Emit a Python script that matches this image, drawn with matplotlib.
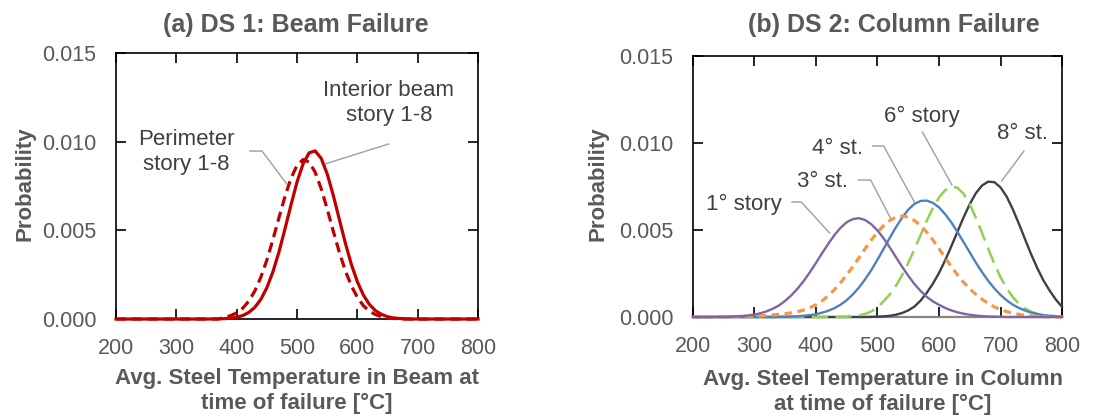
import numpy as np
import matplotlib
matplotlib.use("Agg")
import matplotlib.pyplot as plt
from matplotlib.ticker import FormatStrFormatter

plt.rcParams['font.family'] = ['Liberation Sans', 'DejaVu Sans']

# temperature grid [°C]
temp = np.arange(200, 801, 10)

# (a) beam failure curves
interior_beam = [0.0] * 16 + [
    0.000004, 0.000009, 0.000021, 0.000047, 0.000098, 0.000196, 0.00037, 0.00066,
    0.00111, 0.00177, 0.00266, 0.00378, 0.00508, 0.00644, 0.00773, 0.00875,
    0.00937, 0.00948, 0.00906, 0.00818, 0.00698, 0.00563, 0.00429, 0.00308,
    0.0021, 0.00135, 0.00082, 0.00047, 0.00026, 0.00013, 0.00006, 0.00003,
    0.00001] + [0.0] * 12
perimeter_beam = [0.0] * 18 + [
    0.0001, 0.00019, 0.00035, 0.00061, 0.00101, 0.00158, 0.00236, 0.00333,
    0.00448, 0.00571, 0.00691, 0.00794, 0.00867, 0.00899, 0.00885, 0.00828,
    0.00735, 0.0062, 0.00496, 0.00377, 0.00273, 0.00187, 0.00122, 0.00075,
    0.00044, 0.00025, 0.00013, 0.00006, 0.00003, 0.00001] + [0.0] * 13

# (b) column failure curves
story1 = [0.0] * 4 + [
    0.00001, 0.00001, 0.00002, 0.00004, 0.00006, 0.00009, 0.00014, 0.00022,
    0.00033, 0.00048, 0.00067, 0.00093, 0.00125, 0.00163, 0.00207, 0.00257,
    0.00311, 0.00367, 0.00421, 0.00471, 0.00513, 0.00545, 0.00563, 0.00568,
    0.00557, 0.00533, 0.00497, 0.00452, 0.004, 0.00344, 0.00289, 0.00237,
    0.0019, 0.0015, 0.00116, 0.0009, 0.0007, 0.00052, 0.00038, 0.00027,
    0.00019, 0.00013, 0.00008, 0.00005, 0.00003, 0.00002, 0.00001] + [0.0] * 10
story3 = [0.0] * 5 + [
    0.00001, 0.00001, 0.00002, 0.00002, 0.00003, 0.00004, 0.00006, 0.00009,
    0.00012, 0.00015, 0.00019, 0.00024, 0.00031, 0.0004, 0.00053, 0.0007,
    0.00093, 0.00122, 0.00157, 0.00197, 0.00242, 0.0029, 0.00341, 0.00393,
    0.00443, 0.00488, 0.00526, 0.00555, 0.00574, 0.0058, 0.00574, 0.00555,
    0.00526, 0.00488, 0.00443, 0.00393, 0.00341, 0.0029, 0.00242, 0.00199,
    0.00162, 0.0013, 0.00102, 0.00078, 0.00058, 0.00043, 0.00031, 0.00022,
    0.00015, 0.0001, 0.00006, 0.00004, 0.00002, 0.00001] + [0.0] * 2
story4 = [0.0] * 14 + [
    0.00001, 0.00002, 0.00003, 0.00004, 0.00007, 0.00011, 0.00016, 0.00025,
    0.00036, 0.00051, 0.00071, 0.00097, 0.0013, 0.0017, 0.00217, 0.0027,
    0.0033, 0.00392, 0.00455, 0.00516, 0.00571, 0.00617, 0.0065, 0.00667,
    0.00669, 0.00656, 0.0063, 0.00591, 0.00544, 0.00489, 0.0043, 0.00371,
    0.00312, 0.00258, 0.00208, 0.00164, 0.00127, 0.00096, 0.00071, 0.00052,
    0.00037, 0.00025, 0.00017, 0.00011, 0.00007, 0.00005, 0.00003]
story6 = [0.0] * 24 + [
    0.00001, 0.00002, 0.00005, 0.0001, 0.00018, 0.00032, 0.00055, 0.00091,
    0.0013, 0.0018, 0.0024, 0.00311, 0.00389, 0.00471, 0.00553, 0.00626,
    0.00687, 0.00729, 0.00749, 0.00743, 0.00708, 0.00648, 0.0057, 0.00482,
    0.00392, 0.00306, 0.00229, 0.00165, 0.00114, 0.00076, 0.00049, 0.0003,
    0.00018, 0.0001, 0.00005, 0.00003, 0.00001]
story8 = [0.0] * 29 + [
    0.00001, 0.00002, 0.00004, 0.00007, 0.00013, 0.00023, 0.00038, 0.0006,
    0.00094, 0.00139, 0.00191, 0.00253, 0.00326, 0.00406, 0.0049, 0.00573,
    0.00649, 0.00712, 0.00756, 0.00778, 0.00775, 0.00745, 0.00692, 0.00619,
    0.00535, 0.00446, 0.00359, 0.00279, 0.00209, 0.00151, 0.001, 0.00058]

x_ticks = [200, 300, 400, 500, 600, 700, 800]
y_ticks = [0.0, 0.005, 0.010, 0.015]

# callout labels: (text, text x, text y, leader x list, leader y list)
labels_a = [
    ("Interior beam\nstory 1-8", 652, 0.01218, [652, 546], [0.00987, 0.00874]),
    ("Perimeter\nstory 1-8", 316, 0.00942, [422, 442, 483], [0.00947, 0.00947, 0.00761]),
]
labels_b = [
    ("1° story", 283, 0.00649, [361, 376, 422], [0.00661, 0.00661, 0.00483]),
    ("3° st.", 410, 0.00776, [469, 489, 521], [0.00787, 0.00787, 0.00569]),
    ("4° st.", 435, 0.00971, [492, 510, 560], [0.00983, 0.00983, 0.00661]),
    ("6° story", 572, 0.01155, [573, 621], [0.01063, 0.00759]),
    ("8° st.", 736, 0.01057, [738, 702], [0.00954, 0.00782]),
]

txt_gray = '#595959'
note_gray = '#404040'
lead_gray = '#A6A6A6'


def style_axes(ax, gray_bottom=False, ylab_x=-0.225):
    ax.set_xlim(200, 800)
    ax.set_ylim(0, 0.015)
    ax.set_xticks(x_ticks)
    ax.set_yticks(y_ticks)
    ax.yaxis.set_major_formatter(FormatStrFormatter('%.3f'))
    ax.tick_params(direction='in', length=7, width=1.2, top=True, right=True,
                   labelsize=15.5, labelcolor=txt_gray, pad=14)
    for s in ax.spines.values():
        s.set_linewidth(1.2)
        s.set_color('black')
    if gray_bottom:
        ax.spines['bottom'].set_color('#868686')
        ax.spines['bottom'].set_linewidth(1.6)
        for t in ax.xaxis.get_major_ticks():
            t.tick1line.set_color('#868686')
    ax.set_ylabel('Probability', fontsize=16, fontweight='bold', color=txt_gray)
    ax.yaxis.set_label_coords(ylab_x, 0.51)


fig = plt.figure(figsize=(11.01, 4.18), dpi=100)
ax1 = fig.add_axes([0.1054, 0.2368, 0.3288, 0.6364])
ax2 = fig.add_axes([0.6294, 0.2416, 0.3352, 0.6244])

# ---- (a) beam failure ----
ax1.plot(temp, perimeter_beam, color='#C00000', lw=2.3, dashes=(3.2, 1.8), clip_on=False, zorder=3)
ax1.plot(temp, interior_beam, color='#C00000', lw=2.3, clip_on=False, zorder=4)
for text, tx, ty, lx, ly in labels_a:
    ax1.plot(lx, ly, color=lead_gray, lw=1.1, zorder=2)
    ax1.text(tx, ty, text, ha='center', va='center', fontsize=16, color=note_gray,
             linespacing=1.25)
style_axes(ax1, ylab_x=-0.222)
ax1.text(0.5, -0.271, 'Avg. Steel Temperature in Beam at\ntime of failure [°C]',
         transform=ax1.transAxes, ha='center', va='center', fontsize=16,
         fontweight='bold', color=txt_gray, linespacing=1.2)
fig.text(0.2688, 0.940, '(a) DS 1: Beam Failure', ha='center', va='center',
         fontsize=18, fontweight='bold', color=txt_gray)

# ---- (b) column failure ----
ax2.plot(temp, story8, color='#404040', lw=1.7, clip_on=False, zorder=3)
ax2.plot(temp, story6, color='#92D050', lw=1.8, dashes=(6.5, 3.0), clip_on=False, zorder=3)
ax2.plot(temp, story4, color='#4F81BD', lw=1.7, clip_on=False, zorder=3)
ax2.plot(temp, story3, color='#F79646', lw=2.3, dashes=(2.4, 1.7), clip_on=False, zorder=3)
ax2.plot(temp, story1, color='#8064A2', lw=1.7, clip_on=False, zorder=4)
for text, tx, ty, lx, ly in labels_b:
    ax2.plot(lx, ly, color=lead_gray, lw=1.1, zorder=2)
    ax2.text(tx, ty, text, ha='center', va='center', fontsize=16, color=note_gray)
style_axes(ax2, gray_bottom=True, ylab_x=-0.228)
ax2.text(0.515, -0.287, 'Avg. Steel Temperature in Column\nat time of failure [°C]',
         transform=ax2.transAxes, ha='center', va='center', fontsize=16,
         fontweight='bold', color=txt_gray, linespacing=1.2)
fig.text(0.812, 0.940, '(b) DS 2: Column Failure', ha='center', va='center',
         fontsize=18, fontweight='bold', color=txt_gray)

fig.savefig('out.png', dpi=100)
